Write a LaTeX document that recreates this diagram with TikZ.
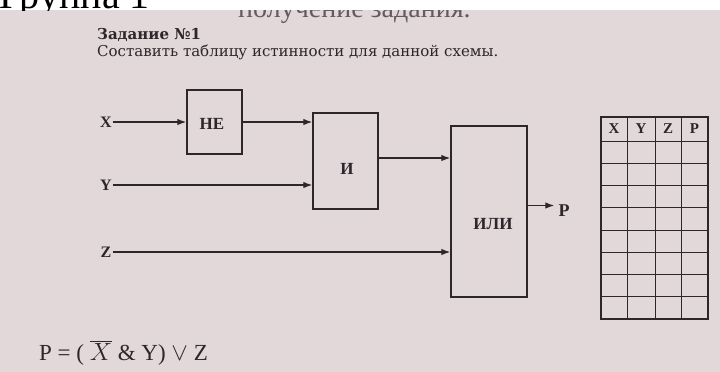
\documentclass[tikz,border=0pt]{standalone}
\usepackage{fontspec}
\setmainfont{Liberation Serif}
\newfontfamily\taskfont{DejaVu Serif}
\usepackage{tikz}
\usetikzlibrary{arrows.meta}
\definecolor{paper}{RGB}{226,215,217}
\definecolor{ink}{RGB}{45,38,42}

\begin{document}
\begin{tikzpicture}[x=1pt,y=-1pt,>={Latex[length=9pt,width=6.5pt]},
  gate/.style={draw=ink,line width=1.4pt},
  gatetext/.style={text=ink,font=\bfseries\fontsize{17}{19}\selectfont},
  sig/.style={text=ink,inner sep=1pt,font=\bfseries\fontsize{16}{18}\selectfont},
  wire/.style={->,draw=ink,line width=1.3pt}]
  \useasboundingbox (0,0) rectangle (720,372);

  % page photo with the cut heading above it
  \fill[paper] (0,10) rectangle (720,372);
  \begin{scope}
    \clip (0,0) rectangle (720,10);
    \node[anchor=base west,inner sep=0,font=\fontsize{40}{44}\selectfont] (group) at (-1,9) {Группа 1};
  \end{scope}
  \begin{scope}
    \clip (0,10) rectangle (720,372);
    \node[anchor=base west,inner sep=0,text=ink!75,font=\fontsize{28}{32}\selectfont] (prev) at (238,17) {получение задания.};
  \end{scope}

  % task text
  \node[anchor=west,inner sep=0,text=ink,font=\taskfont\bfseries\fontsize{15}{17}\selectfont] (task) at (97,35) {Задание №1};
  \node[anchor=west,inner sep=0,text=ink,font=\taskfont\fontsize{15}{17}\selectfont] (taskline) at (97,52) {Составить таблицу истинности для данной схемы.};

  % gates
  \node[gate,minimum width=55pt,minimum height=64pt] (ne) at (214.5,122) {};
  \node[gate,minimum width=65pt,minimum height=96pt] (and) at (345.5,161) {};
  \node[gate,minimum width=76pt,minimum height=171pt] (or) at (489,211.5) {};
  \node[gatetext] (netext) at (212,124) {НЕ};
  \node[gatetext] (andtext) at (347,169) {И};
  \node[gatetext] (ortext) at (493,224) {ИЛИ};

  % inputs and output
  \node[sig] (x) at (106,122) {X};
  \node[sig] (y) at (106,185) {Y};
  \node[sig] (z) at (106,252) {Z};
  \node[sig,inner sep=4pt,font=\bfseries\fontsize{18}{20}\selectfont] (p) at (564,211) {P};
  \draw[wire] (x) -- (ne);
  \draw[wire] (ne) -- (ne -| and.west);
  \draw[wire] (y) -- (y -| and.west);
  \draw[wire] ([yshift=3pt]and.east) -- ([yshift=3pt]and.east -| or.west);
  \draw[wire] (z) -- (z -| or.west);
  \draw[wire] ([yshift=6pt]or.east) -- ([yshift=6pt]or.east -| p.west);

  % truth table
  \draw[ink,line width=1.2pt] (601,117) rectangle (708,319);
  \foreach \cx in {627,655,681}
    \draw[ink,line width=1pt] (\cx,117) -- (\cx,319);
  \foreach \k in {0,...,7}
    \draw[ink,line width=1pt] (601,141+22.25*\k) -- (708,141+22.25*\k);
  \foreach \name/\cx in {X/614,Y/641,Z/668,P/694.5}
    \node[sig,font=\bfseries\fontsize{15}{17}\selectfont] (h\name) at (\cx,129) {\name};

  % formula
  \node[anchor=west,inner sep=0,text=ink,font=\fontsize{23}{27}\selectfont] (formula) at (39,353) {P = ( $\overline{X}$ \& Y) $\vee$ Z};
\end{tikzpicture}
\end{document}
